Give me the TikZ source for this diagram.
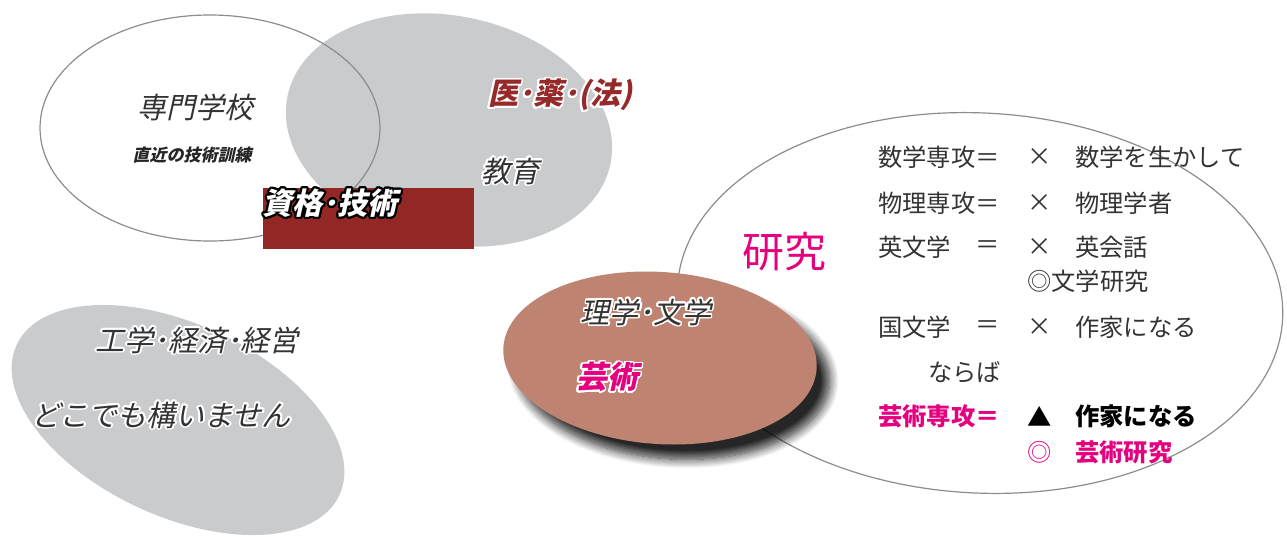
\documentclass[tikz,border=0pt]{standalone}
\usepackage{fontspec}
\usepackage{contour}
\usetikzlibrary{shapes.geometric,shadows.blur}
\newfontfamily\jp{Noto Sans CJK JP}
\newfontfamily\jpit[FakeSlant=0.22]{Noto Sans CJK JP}
\definecolor{ovgrey}{HTML}{CACBCD}
\definecolor{lineg}{HTML}{8C8C8C}
\definecolor{brick}{HTML}{932726}
\definecolor{brown}{HTML}{BF8471}
\definecolor{mag}{HTML}{E5007F}
\definecolor{txt}{HTML}{333333}
\definecolor{dred}{HTML}{962A2A}
\contourlength{1.6pt}
\contournumber{24}
\tikzset{
  blob/.style={ellipse, inner sep=0pt, draw=none},
  ring/.style={ellipse, inner sep=0pt, draw=lineg, line width=1.2pt},
  lab/.style={inner sep=0pt, text=txt},
  tab/.style={inner sep=0pt, anchor=west, text=txt, font=\jp\fontsize{24.3}{24.3}\selectfont},
  tabb/.style={tab, font=\jp\bfseries\fontsize{24.3}{24.3}\selectfont},
  big/.style={font=\jpit\fontsize{29}{29}\selectfont},
}
\begin{document}
\begin{tikzpicture}[x=1pt,y=-1pt]
\useasboundingbox (0,0) rectangle (1287,536);
% top-left group
\node[blob, fill=ovgrey, minimum width=330pt, minimum height=228pt, rotate=-12] (e2) at (449,130) {};
\node[ring, minimum width=340pt, minimum height=226pt] (e1) at (210,128) {};
\node[fill=brick, inner sep=0pt, minimum width=211pt, minimum height=61pt, anchor=north west] (rect) at (263,188) {};
% bottom-left
\node[blob, fill=ovgrey, minimum width=356pt, minimum height=192pt, rotate=-25] (e3) at (178,420) {};
% right
\node[ring, minimum width=606pt, minimum height=380pt, rotate=-3] (e4) at (980,303) {};
\node[blob, fill=brown, minimum width=314pt, minimum height=172pt, rotate=-4,
  blur shadow={shadow xshift=13pt, shadow yshift=-15pt, shadow blur radius=9pt, shadow opacity=85, shadow blur steps=12}] (e5) at (660,358) {};

% texts top-left
\node[lab, big] (t1) at (195,107) {専門学校};
\node[lab, text=black!85, font=\jpit\bfseries\fontsize{17}{17}\selectfont] (t2) at (192,155) {直近の技術訓練};
\node[lab, text=dred, font=\jpit\bfseries\fontsize{30}{30}\selectfont] (t3) at (560,96) {\contour{white}{医･薬･(法)}};
\node[lab, big] (t4) at (510,172) {\contour{white}{教育}};
\node[lab, text=white, font=\jpit\bfseries\fontsize{30}{30}\selectfont] (t5) at (330,204) {\contourlength{2pt}\contour{black}{資格･技術}};
% bottom-left texts
\node[lab, big] (t6) at (197,341) {\contour{white}{工学･経済･経営}};
\node[lab, big] (t7) at (161,416) {\contour{white}{どこでも構いません}};
% brown ellipse texts
\node[lab, big] (t8) at (646,313) {\contour{white}{理学･文学}};
\node[lab, text=mag, font=\jpit\bfseries\fontsize{31}{31}\selectfont] (t9) at (607,378) {\contour{white}{芸術}};
% research
\node[lab, text=mag, font=\jp\fontsize{42}{42}\selectfont] (res) at (784,252) {研究};
% table
\node[tab] (r1a) at (878,157) {数学専攻＝};
\node[tab, anchor=center] (r1b) at (1040,157) {×};
\node[tab] (r1c) at (1075,157) {数学を生かして};
\node[tab] (r2a) at (878,203) {物理専攻＝};
\node[tab, anchor=center] (r2b) at (1040,203) {×};
\node[tab] (r2c) at (1075,203) {物理学者};
\node[tab] (r3a) at (878,247) {英文学};
\node[tab, anchor=center] (r3e) at (988,247) {＝};
\node[tab, anchor=center] (r3b) at (1040,247) {×};
\node[tab] (r3c) at (1075,247) {英会話};
\node[tab] (r4) at (1027,281) {◎文学研究};
\node[tab] (r5a) at (878,327) {国文学};
\node[tab, anchor=center] (r5e) at (988,327) {＝};
\node[tab, anchor=center] (r5b) at (1040,327) {×};
\node[tab] (r5c) at (1075,327) {作家になる};
\node[tab] (r6) at (928,372) {ならば};
\node[tabb, text=mag] (r7a) at (878,416) {芸術専攻＝};
\node[tab, anchor=center, text=black] (r7b) at (1040,416) {▲};
\node[tabb, text=black] (r7c) at (1075,416) {作家になる};
\node[tab, anchor=center, text=mag] (r8b) at (1040,452) {◎};
\node[tabb, text=mag] (r8c) at (1075,452) {芸術研究};
\end{tikzpicture}
\end{document}
